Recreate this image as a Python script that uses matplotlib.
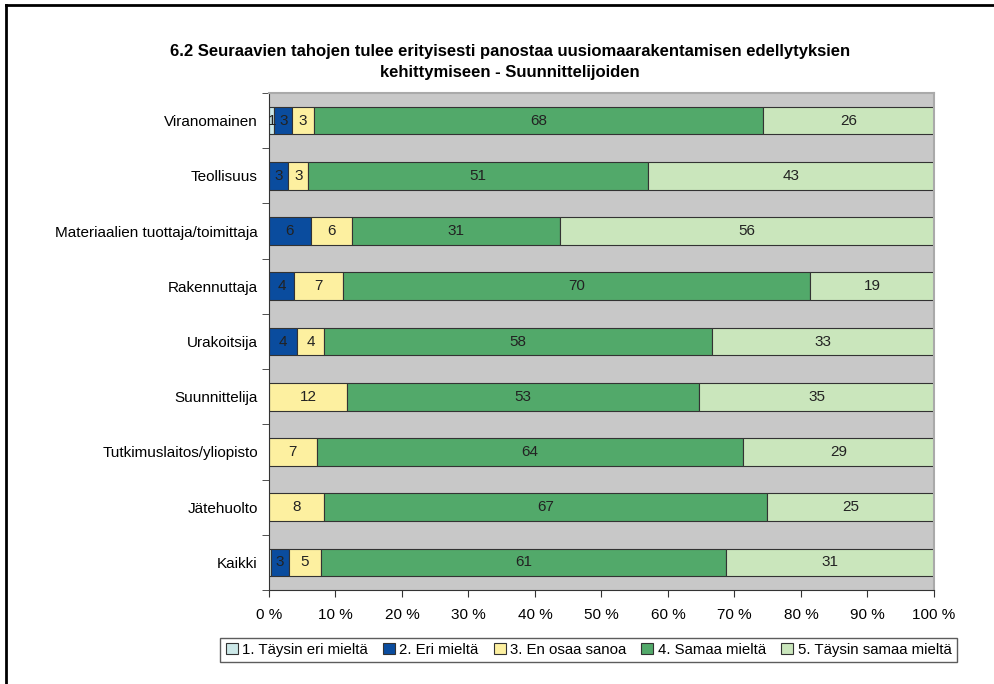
import matplotlib.pyplot as plt
from matplotlib.lines import Line2D
from matplotlib.patches import Patch

plt.rcParams['font.family'] = ['Liberation Sans', 'DejaVu Sans']

categories = ['Viranomainen', 'Teollisuus', 'Materiaalien tuottaja/toimittaja',
              'Rakennuttaja', 'Urakoitsija', 'Suunnittelija',
              'Tutkimuslaitos/yliopisto', 'Jätehuolto', 'Kaikki']
series = ['1. Täysin eri mieltä', '2. Eri mieltä', '3. En osaa sanoa',
          '4. Samaa mieltä', '5. Täysin samaa mieltä']

s1 = [0.8, 0.0, 0.0, 0.0, 0.0, 0.0, 0.0, 0.0, 0.3]
s2 = [2.7, 2.9, 6.3, 3.8, 4.2, 0.0, 0.0, 0.0, 2.7]
s3 = [3.2, 3.0, 6.2, 7.4, 4.1, 11.8, 7.2, 8.3, 4.8]
s4 = [67.6, 51.1, 31.3, 70.2, 58.3, 52.9, 64.1, 66.6, 60.9]
s5 = [25.7, 43.0, 56.2, 18.6, 33.4, 35.3, 28.7, 25.1, 31.3]
values = [s1, s2, s3, s4, s5]

colors = ['#CCE8E8', '#0A4C9E', '#FDF0A0', '#52A96A', '#CAE6BC']

fig = plt.figure(figsize=(9.94, 6.84), dpi=100)
ax = fig.add_axes([0.2706, 0.1374, 0.669, 0.7266])
ax.set_facecolor('#C8C8C8')

y = list(range(len(categories)))
left = [0.0] * len(categories)
for vals, col in zip(values, colors):
    bars = ax.barh(y, vals, left=left, height=0.5, color=col,
                   edgecolor='#333333', linewidth=0.8, zorder=2)
    for b, v, l in zip(bars, vals, left):
        if round(v) >= 1:
            ax.text(l + v / 2, b.get_y() + b.get_height() / 2, str(round(v)),
                    ha='center', va='center', fontsize=11, color='#222222', zorder=3)
    left = [a + b for a, b in zip(left, vals)]

ax.set_xlim(0, 100)
ax.set_ylim(8.5, -0.5)
ax.set_xticks(range(0, 101, 10))
ax.set_xticklabels([f'{t} %' for t in range(0, 101, 10)], fontsize=11)
ax.set_yticks(y)
ax.set_yticklabels(categories, fontsize=11)
ax.set_yticks([i + 0.5 for i in range(-1, 9)], minor=True)
ax.tick_params(axis='y', which='major', length=0, pad=8)
ax.tick_params(axis='y', which='minor', length=5, direction='out', color='#333333')
ax.tick_params(axis='x', length=5, direction='out', pad=8, color='#333333')

for side in ['top', 'right']:
    ax.spines[side].set_color('#AAAAAA')
    ax.spines[side].set_linewidth(1.5)
for side in ['left', 'bottom']:
    ax.spines[side].set_color('#333333')

fig.text(0.513, 0.910, '6.2 Seuraavien tahojen tulee erityisesti panostaa uusiomaarakentamisen edellytyksien\nkehittymiseen - Suunnittelijoiden',
         ha='center', va='center', fontsize=12, fontweight='bold', linespacing=1.5)

handles = [Patch(facecolor=c, edgecolor='#333333', linewidth=0.8) for c in colors]
leg = fig.legend(handles, series, loc='center', bbox_to_anchor=(0.592, 0.05), ncol=5,
                 fontsize=10.8, frameon=True, fancybox=False, handlelength=0.8,
                 handleheight=0.8, handletextpad=0.3, columnspacing=1.0,
                 borderpad=0.35)
leg.get_frame().set_edgecolor('#333333')
leg.get_frame().set_linewidth(1.0)

# border along top and left edge
fig.add_artist(Line2D([0.006, 1], [0.993, 0.993], color='black', lw=2, transform=fig.transFigure))
fig.add_artist(Line2D([0.006, 0.006], [0, 0.993], color='black', lw=2, transform=fig.transFigure))

fig.savefig('out.png', dpi=100)
